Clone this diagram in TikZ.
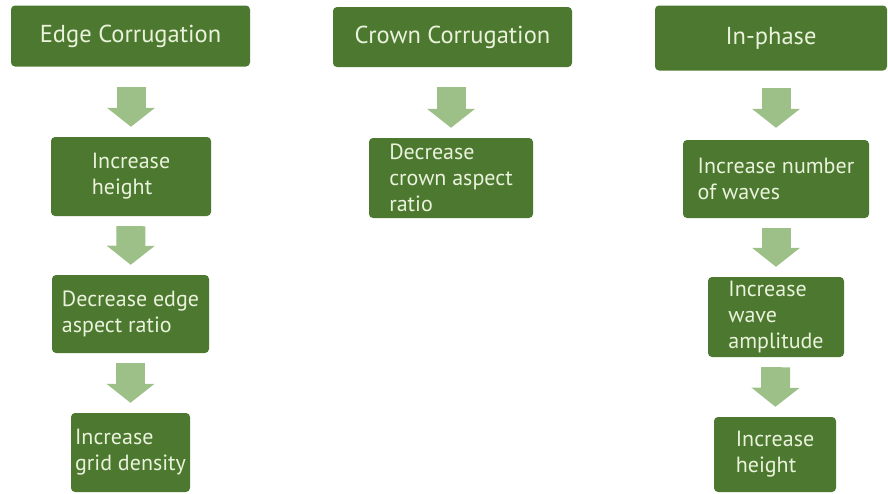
\documentclass[tikz,border=0pt]{standalone}
\usepackage{fontspec}
\setmainfont{PT Sans}
\usetikzlibrary{arrows.meta}
\definecolor{boxgreen}{HTML}{4C792F}
\definecolor{arrowgreen}{HTML}{9DC088}
\definecolor{boxtext}{HTML}{EAF2DC}
\tikzset{
  stepbox/.style={fill=boxgreen, rounded corners=4pt, text=boxtext, align=left,
    inner sep=0pt, font=\fontsize{22}{26}\selectfont},
  headbox/.style={stepbox, font=\fontsize{24.5}{28}\selectfont},
  flow/.style={draw=arrowgreen, line width=29pt,
    -{Triangle[width=47pt,length=19pt,fill=arrowgreen]}, shorten >=10pt}
}
\begin{document}
\begin{tikzpicture}[x=1pt,y=-1pt]
  \useasboundingbox (0,0) rectangle (888,493);
  % Headers
  \node[headbox, minimum width=239pt, minimum height=61pt] (edge) at (130.5,36) {Edge Corrugation};
  \node[headbox, minimum width=239pt, minimum height=60pt] (crown) at (452.5,37) {Crown Corrugation};
  \node[headbox, minimum width=232pt, minimum height=65pt] (inphase) at (771,38) {In-phase};
  % Edge column
  \node[stepbox, minimum width=160pt, minimum height=79pt] (incheight) at (131,176.5) {Increase\\height};
  \node[stepbox, minimum width=157pt, minimum height=78pt] (edgeratio) at (130.5,314) {Decrease edge\\aspect ratio};
  \node[stepbox, minimum width=119pt, minimum height=79pt] (grid) at (130.5,452.5) {Increase\\grid density};
  % Crown column
  \node[stepbox, minimum width=164pt, minimum height=80pt] (crownratio) at (451,178) {Decrease\\crown aspect\\ratio};
  % In-phase column
  \node[stepbox, minimum width=186pt, minimum height=78pt] (waves) at (776,179) {Increase number\\of waves};
  \node[stepbox, minimum width=136pt, minimum height=80pt] (amplitude) at (776,317) {Increase\\wave\\amplitude};
  \node[stepbox, minimum width=122pt, minimum height=75pt] (wheight) at (775,454.5) {Increase\\height};
  % Arrows
  \draw[flow, shorten <=20pt] (edge.south -| incheight.north) -- (incheight.north);
  \draw[flow, shorten <=10pt] (incheight) -- (edgeratio);
  \draw[flow, shorten <=10pt] (edgeratio.south) -- (grid.north);
  \draw[flow, shorten <=20pt] (crown.south -| crownratio.north) -- (crownratio.north);
  \draw[flow, shorten <=17pt, shorten >=12pt] (inphase.south -| waves.north) -- (waves.north);
  \draw[flow, shorten <=10pt] (waves) -- (amplitude);
  \draw[flow, shorten <=10pt] (amplitude) -- (wheight);
\end{tikzpicture}
\end{document}
